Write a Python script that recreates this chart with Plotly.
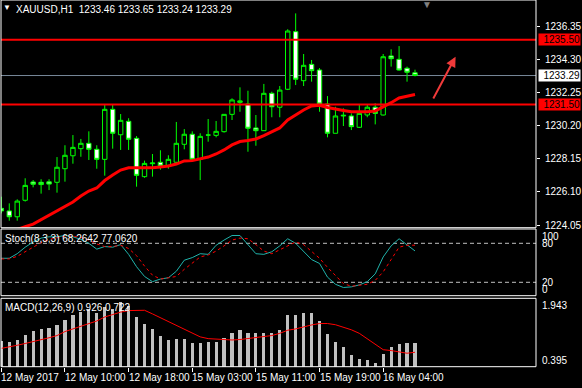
import plotly.graph_objects as go

# ---------------- data ----------------
open_ = [1225.08, 1224.92, 1224.56, 1225.58, 1226.71, 1226.69, 1226.72, 1226.69, 1227.53, 1228.33,
         1228.77, 1229.10, 1228.73, 1228.11, 1231.20, 1229.63, 1230.46, 1229.41, 1227.04, 1227.84,
         1227.93, 1227.74, 1227.93, 1229.04, 1229.66, 1228.11, 1229.61, 1229.59, 1229.82, 1230.89,
         1231.63, 1231.53, 1230.05, 1229.88, 1232.19, 1231.33, 1232.44, 1236.00, 1232.97, 1233.98,
         1233.63, 1231.53, 1229.72, 1230.79, 1230.79, 1230.09, 1230.85, 1231.33, 1230.85, 1234.50,
         1234.29, 1233.74, 1233.46]
high = [1225.80, 1225.39, 1225.64, 1226.94, 1226.83, 1226.88, 1226.88, 1228.25, 1228.98, 1229.61,
        1229.37, 1229.84, 1228.98, 1231.49, 1231.49, 1230.91, 1230.65, 1229.55, 1228.03, 1228.44,
        1228.67, 1228.36, 1230.42, 1229.98, 1229.84, 1229.72, 1230.60, 1230.48, 1230.91, 1231.88,
        1232.56, 1232.35, 1230.85, 1232.77, 1232.29, 1232.64, 1236.15, 1237.13, 1234.62, 1234.25,
        1233.75, 1232.02, 1231.36, 1231.26, 1230.95, 1231.47, 1231.47, 1231.57, 1234.62, 1234.91,
        1235.11, 1233.84, 1233.65]
low = [1224.77, 1224.32, 1224.32, 1225.50, 1226.38, 1225.99, 1226.21, 1226.05, 1226.73, 1227.84,
       1228.27, 1228.07, 1227.53, 1227.10, 1228.77, 1228.69, 1228.69, 1226.42, 1226.97, 1227.04,
       1227.47, 1227.53, 1227.80, 1228.73, 1228.07, 1226.83, 1229.20, 1229.47, 1229.76, 1230.54,
       1231.05, 1228.58, 1228.95, 1229.86, 1230.71, 1230.71, 1232.39, 1232.70, 1232.64, 1232.91,
       1231.05, 1229.47, 1229.72, 1230.17, 1229.92, 1230.05, 1230.71, 1230.27, 1230.82, 1233.84,
       1233.59, 1232.91, 1233.24]
close = [1224.92, 1224.56, 1225.53, 1226.50, 1226.57, 1226.55, 1226.58, 1227.62, 1228.36, 1228.85,
         1229.10, 1228.73, 1228.11, 1231.20, 1229.72, 1230.52, 1229.35, 1227.12, 1227.86, 1227.88,
         1227.70, 1228.11, 1229.10, 1229.66, 1228.11, 1229.53, 1229.61, 1229.84, 1230.89, 1231.78,
         1231.72, 1230.03, 1229.88, 1232.19, 1231.36, 1232.39, 1236.04, 1233.06, 1233.92, 1233.59,
         1231.53, 1229.72, 1230.79, 1230.83, 1230.13, 1230.95, 1231.33, 1230.95, 1234.45, 1234.33,
         1233.63, 1233.49, 1233.29]
ma = [1223.43, 1223.62, 1223.77, 1223.95, 1224.11, 1224.39, 1224.64, 1224.92, 1225.20, 1225.47,
      1225.84, 1226.15, 1226.34, 1226.80, 1227.14, 1227.45, 1227.59, 1227.59, 1227.59, 1227.59,
      1227.64, 1227.70, 1227.82, 1228.01, 1228.03, 1228.13, 1228.25, 1228.44, 1228.69, 1229.00,
      1229.21, 1229.27, 1229.37, 1229.58, 1229.80, 1230.05, 1230.54, 1230.85, 1231.16, 1231.41,
      1231.45, 1231.31, 1231.20, 1231.13, 1231.05, 1231.05, 1231.05, 1231.10, 1231.34, 1231.61,
      1231.90, 1232.02, 1232.12]
stoch_main = [57, 57, 64, 74, 82, 88, 90, 90, 92, 90, 86, 80, 71, 75, 74, 78, 63, 44, 29, 21,
              25, 27, 37, 54, 58, 64, 63, 77, 85, 92, 92, 78, 64, 63, 67, 76, 87, 80, 67, 55,
              49, 28, 17, 12, 13, 16, 21, 33, 59, 76, 87, 77, 68.26]
stoch_signal = [56, 56, 60, 67, 74, 81, 86, 89, 91, 91, 89, 85, 79, 75, 75, 77, 72, 61, 45, 31,
                25, 27, 29, 40, 50, 59, 62, 68, 76, 85, 88, 87, 78, 68, 64, 70, 77, 82, 78, 67,
                57, 43, 30, 18, 14, 15, 17, 23, 36, 55, 74, 77, 77.06]
macd_hist = [0.974, 0.951, 1.003, 1.102, 1.199, 1.251, 1.267, 1.334, 1.447, 1.559,
             1.634, 1.688, 1.604, 1.740, 1.694, 1.845, 1.762, 1.508, 1.357, 1.237,
             1.086, 0.996, 1.019, 1.019, 0.929, 0.929, 0.958, 0.958, 1.048, 1.161,
             1.228, 1.161, 1.161, 1.161, 1.161, 1.228, 1.559, 1.559, 1.598, 1.598,
             1.424, 1.131, 0.958, 0.823, 0.659, 0.568, 0.546, 0.472, 0.674, 0.845,
             0.906, 0.922, 0.926]
macd_signal = [0.81, 0.84, 0.88, 0.92, 0.96, 1.00, 1.05, 1.10, 1.19, 1.25,
               1.31, 1.37, 1.43, 1.52, 1.58, 1.63, 1.665, 1.672, 1.672, 1.59,
               1.50, 1.42, 1.33, 1.24, 1.15, 1.07, 1.03, 1.02, 1.00, 1.00,
               1.01, 1.03, 1.05, 1.07, 1.10, 1.15, 1.22, 1.25, 1.30, 1.34,
               1.372, 1.372, 1.345, 1.29, 1.23, 1.15, 1.02, 0.90, 0.78, 0.76,
               0.73, 0.70, 0.722]
price_ticks = [1224.05, 1226.10, 1228.15, 1230.20, 1232.25, 1234.30, 1236.35]
levels = [1235.50, 1231.50]
last_price = 1233.29
stoch_levels = [80, 20]
stoch_last = ["68.2642", "77.0620"]
macd_last = ["0.926", "0.722"]
macd_scale = [0.395, 1.943]
tick_idx = [0, 8, 16, 24, 32, 40, 48]
tick_labels = ["12 May 2017", "12 May 10:00", "12 May 18:00", "15 May 03:00",
               "15 May 11:00", "15 May 19:00", "16 May 04:00"]
arrow_from = (54.2, 1231.78)
arrow_to = (57.1, 1234.45)

x = list(range(len(close)))

# ---------------- layout helpers ----------------
W, H = 582, 388
PL, PR, PT, PB = 1, 539, 0, 367
PW, PH = PR - PL, PB - PT
FONT = "Liberation Sans"
FS = 10


def fx(px):
    return (px - PL) / PW


def fy(py):
    return (PB - py) / PH


main_dom = [fy(227.7), 1.0]
stoch_dom = [fy(295.7), fy(229)]
macd_dom = [fy(366.7), fy(298.3)]

fig = go.Figure()

fig.add_trace(go.Candlestick(
    x=x, open=open_, high=high, low=low, close=close,
    increasing=dict(line=dict(color="#00FF00", width=1), fillcolor="#000000"),
    decreasing=dict(line=dict(color="#00FF00", width=1), fillcolor="#FFFFFF"),
    whiskerwidth=0, showlegend=False, xaxis="x", yaxis="y", hoverinfo="skip"))

fig.add_trace(go.Scatter(x=x, y=ma, mode="lines", line=dict(color="#FF0000", width=3),
                         showlegend=False, xaxis="x", yaxis="y", hoverinfo="skip"))

fig.add_trace(go.Scatter(x=x, y=stoch_main, mode="lines", line=dict(color="#20B2AA", width=1),
                         showlegend=False, xaxis="x", yaxis="y2", hoverinfo="skip"))
fig.add_trace(go.Scatter(x=x, y=stoch_signal, mode="lines",
                         line=dict(color="#FF0000", width=1, dash="3px,3px"),
                         showlegend=False, xaxis="x", yaxis="y2", hoverinfo="skip"))

fig.add_trace(go.Bar(x=x, y=macd_hist, marker=dict(color="#C0C0C0", line=dict(width=0)),
                     width=0.4, showlegend=False, xaxis="x", yaxis="y3", hoverinfo="skip"))
fig.add_trace(go.Scatter(x=x, y=macd_signal, mode="lines", line=dict(color="#FF0000", width=1),
                         showlegend=False, xaxis="x", yaxis="y3", hoverinfo="skip"))

shapes = []
for lv in levels:
    shapes.append(dict(type="line", xref="paper", x0=0, x1=1, yref="y", y0=lv, y1=lv,
                       line=dict(color="#FF0000", width=2), layer="above"))
shapes.append(dict(type="line", xref="paper", x0=0, x1=1, yref="y", y0=last_price, y1=last_price,
                   line=dict(color="#778899", width=1), layer="below"))
for lv in stoch_levels:
    shapes.append(dict(type="line", xref="paper", x0=0, x1=1, yref="y2", y0=lv, y1=lv,
                       line=dict(color="#C0C0C0", width=1, dash="4px,3px"), layer="below"))
for dom in (main_dom, stoch_dom, macd_dom):
    shapes.append(dict(type="rect", xref="paper", yref="paper", x0=0, x1=1, y0=dom[0], y1=dom[1],
                       line=dict(color="#FFFFFF", width=1), fillcolor="rgba(0,0,0,0)", layer="above"))

ann = []
txt = dict(family=FONT, size=FS, color="#FFFFFF")
ann.append(dict(xref="paper", yref="paper", x=fx(14), y=fy(10), xanchor="left", yanchor="middle",
                showarrow=False, font=txt,
                text="XAUUSD,H1\u00a0\u00a0{:.2f} {:.2f} {:.2f} {:.2f}".format(
                    open_[-1], high[-1], low[-1], close[-1])))
ann.append(dict(xref="paper", yref="paper", x=fx(7), y=fy(7.5), xanchor="center", yanchor="middle",
                showarrow=False, font=dict(family=FONT, size=8, color="#FFFFFF"), text="\u25BC"))
ann.append(dict(xref="paper", yref="paper", x=fx(429), y=fy(4), xanchor="center", yanchor="middle",
                showarrow=False, font=dict(family=FONT, size=10, color="#808080"), text="\u25BC"))
ann.append(dict(xref="paper", yref="paper", x=fx(3), y=fy(238.3), xanchor="left", yanchor="middle",
                showarrow=False, font=txt,
                text="Stoch(8,3,3) {} {}".format(*stoch_last)))
ann.append(dict(xref="paper", yref="paper", x=fx(3), y=fy(307.7), xanchor="left", yanchor="middle",
                showarrow=False, font=txt,
                text="MACD(12,26,9) {} {}".format(*macd_last)))
for lv in levels:
    ann.append(dict(xref="paper", yref="y", x=fx(541), y=lv, xanchor="left", yanchor="middle",
                    showarrow=False, font=dict(family=FONT, size=FS, color="#000000"),
                    text="{:.2f}".format(lv), bgcolor="#FF0000", borderpad=0, width=41, height=11,
                    align="right"))
ann.append(dict(xref="paper", yref="y", x=fx(541), y=last_price, xanchor="left", yanchor="middle",
                showarrow=False, font=dict(family=FONT, size=FS, color="#000000"),
                text="{:.2f}".format(last_price), bgcolor="#FFFFFF", borderpad=0, width=41, height=11,
                align="right"))
for label, py in (("100", 236.7), ("80", 243.3), ("20", 282.3), ("0", 289.3)):
    ann.append(dict(xref="paper", yref="paper", x=fx(543), y=fy(py), xanchor="left", yanchor="middle",
                    showarrow=False, font=txt, text=label))
ann.append(dict(xref="paper", yref="paper", x=fx(543), y=fy(305.7), xanchor="left", yanchor="middle",
                showarrow=False, font=txt, text="{:.3f}".format(macd_scale[1])))
ann.append(dict(xref="paper", yref="paper", x=fx(543), y=fy(360.7), xanchor="left", yanchor="middle",
                showarrow=False, font=txt, text="{:.3f}".format(macd_scale[0])))
for ti, tl in zip(tick_idx, tick_labels):
    ann.append(dict(xref="x", yref="paper", x=ti, y=fy(377), xanchor="left", yanchor="middle",
                    showarrow=False, font=txt, text=tl, xshift=-2))
ann.append(dict(xref="x", yref="y", x=arrow_to[0], y=arrow_to[1], axref="x", ayref="y",
                ax=arrow_from[0], ay=arrow_from[1], showarrow=True, arrowhead=2, arrowsize=1,
                arrowwidth=2, arrowcolor="#F03A3A", text=""))

k0 = -0.04
fig.update_layout(
    width=W, height=H,
    margin=dict(l=PL, r=W - PR, t=PT, b=H - PB, pad=0),
    paper_bgcolor="#000000", plot_bgcolor="#000000",
    showlegend=False, hovermode=False,
    boxgap=0.35, boxgroupgap=0.15, bargap=0,
    xaxis=dict(range=[k0, k0 + PW / 8.0], anchor="y3", showgrid=False, zeroline=False,
               showline=False, ticks="outside", ticklen=4, tickcolor="#FFFFFF",
               tickvals=tick_idx, showticklabels=False, rangeslider=dict(visible=False),
               fixedrange=True),
    yaxis=dict(domain=main_dom, range=[1223.885, 1237.957], side="right", anchor="x",
               showgrid=False, zeroline=False, showline=False, ticks="outside", ticklen=3,
               tickcolor="#FFFFFF", tickvals=price_ticks,
               ticktext=["{:.2f}".format(v) for v in price_ticks],
               tickfont=txt, ticklabelstandoff=3),
    yaxis2=dict(domain=stoch_dom, range=[-0.6, 102], anchor="x", showgrid=False, zeroline=False,
                showticklabels=False, showline=False),
    yaxis3=dict(domain=macd_dom, range=macd_scale, anchor="x", showgrid=False, zeroline=False,
                showticklabels=False, showline=False),
    shapes=shapes, annotations=ann,
)

fig.write_html("out.html", config={"displayModeBar": False},
               post_script="document.body.style.margin='0';document.body.style.padding='0';"
                           "document.documentElement.style.overflow='hidden';")
